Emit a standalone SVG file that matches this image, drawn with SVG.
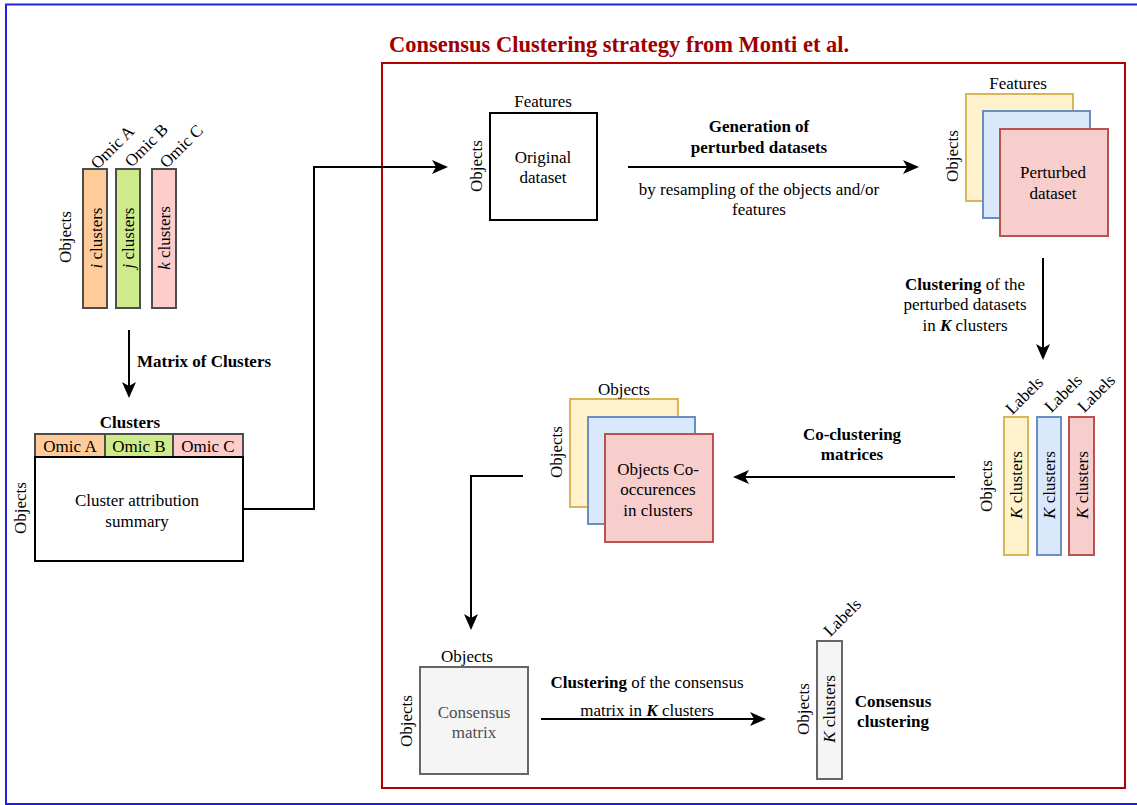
<svg xmlns="http://www.w3.org/2000/svg" width="1137" height="805" viewBox="0 0 1137 805">
<style>
text{font-family:"Liberation Serif","Times New Roman",serif;font-size:17px;fill:#000}
.c{text-anchor:middle}
.b{font-weight:bold}
.it{font-style:italic}
.box{fill:#fff;stroke:#000;stroke-width:2}
.bar{stroke:#4d4d4d;stroke-width:2}
.conn{fill:none;stroke:#000;stroke-width:2}
.y{fill:#fff2cc;stroke:#d6b656;stroke-width:2}
.bl{fill:#dae8fc;stroke:#6c8ebf;stroke-width:2}
.r{fill:#f8cecc;stroke:#b85450;stroke-width:2}
.g{fill:#f5f5f5;stroke:#666;stroke-width:2}
</style>
<defs>
<marker id="ah" markerUnits="userSpaceOnUse" markerWidth="16" markerHeight="14" viewBox="0 0 16 14" refX="10" refY="7" orient="auto">
<path d="M0,0 L16,7 L0,14 L4,7 Z" fill="#000"/>
</marker>
</defs>
<rect x="6" y="4.5" width="1150" height="799.5" fill="#fff" stroke="#2020e0" stroke-width="2"/>
<g id="frame">
<rect x="382" y="63" width="743" height="725" fill="none" stroke="#b20000" stroke-width="2"/>
<text x="389" y="52" class="b" style="font-size:22.5px;fill:#a00000">Consensus Clustering strategy from Monti et al.</text>
</g>
<g id="connectors">
<path class="conn" d="M129,330 V392" marker-end="url(#ah)"/>
<path class="conn" d="M243,509 H314 V167 H442" marker-end="url(#ah)"/>
<path class="conn" d="M628,167 H913" marker-end="url(#ah)"/>
<path class="conn" d="M1043,258 V354" marker-end="url(#ah)"/>
<path class="conn" d="M955,477 H739" marker-end="url(#ah)"/>
<path class="conn" d="M523,476 H471 V624" marker-end="url(#ah)"/>
<path class="conn" d="M541,719 H760" marker-end="url(#ah)"/>
<text x="137" y="367" class="b">Matrix of Clusters</text>
<text x="759" y="132" class="c b">Generation of</text>
<text x="759" y="153" class="c b">perturbed datasets</text>
<text x="759" y="195" class="c">by resampling of the objects and/or</text>
<text x="759" y="215" class="c">features</text>
<text x="965" y="290" class="c"><tspan class="b">Clustering</tspan> of the</text>
<text x="965" y="310" class="c">perturbed datasets</text>
<text x="965" y="331" class="c">in <tspan class="b it">K</tspan> clusters</text>
<text x="852" y="440" class="c b">Co-clustering</text>
<text x="852" y="460" class="c b">matrices</text>
<text x="647" y="688" class="c"><tspan class="b">Clustering</tspan> of the consensus</text>
<text x="647" y="716" class="c">matrix in <tspan class="b it">K</tspan> clusters</text>
</g>
<g id="omic-bars">
<rect x="83" y="169" width="24" height="139" class="bar" fill="#ffcc99"/>
<rect x="116" y="169" width="24" height="139" class="bar" fill="#cdeb8b"/>
<rect x="152" y="169" width="24" height="139" class="bar" fill="#ffcccc"/>
<text transform="translate(96,238) rotate(-90)" y="6" class="c"><tspan class="it">i</tspan> clusters</text>
<text transform="translate(128,238) rotate(-90)" y="6" class="c"><tspan class="it">j</tspan> clusters</text>
<text transform="translate(164,238) rotate(-90)" y="6" class="c"><tspan class="it">k</tspan> clusters</text>
<text transform="translate(65,237) rotate(-90)" y="6" class="c">Objects</text>
<text transform="translate(112,147) rotate(-45)" y="6" class="c">Omic A</text>
<text transform="translate(146,145) rotate(-45)" y="6" class="c">Omic B</text>
<text transform="translate(181,146) rotate(-45)" y="6" class="c">Omic C</text>
</g>
<g id="summary">
<text x="130" y="428" class="c b">Clusters</text>
<rect x="35" y="434" width="70" height="23" class="bar" fill="#ffcc99"/>
<rect x="105" y="434" width="68" height="23" class="bar" fill="#cdeb8b"/>
<rect x="173" y="434" width="70" height="23" class="bar" fill="#ffcccc"/>
<text x="70" y="452" class="c">Omic A</text>
<text x="139" y="452" class="c">Omic B</text>
<text x="208" y="452" class="c">Omic C</text>
<rect x="35" y="457" width="208" height="104" class="box"/>
<text x="137" y="506" class="c">Cluster attribution</text>
<text x="137" y="527" class="c">summary</text>
<text transform="translate(20,508) rotate(-90)" y="6" class="c">Objects</text>
</g>
<g id="original">
<rect x="490" y="113" width="107" height="107" class="box"/>
<text x="543" y="107" class="c">Features</text>
<text x="543" y="163" class="c">Original</text>
<text x="543" y="183" class="c">dataset</text>
<text transform="translate(476,166) rotate(-90)" y="6" class="c">Objects</text>
</g>
<g id="perturbed">
<rect x="966" y="94" width="107" height="107" class="y"/>
<rect x="983" y="111" width="107" height="107" class="bl"/>
<rect x="1000" y="129" width="108" height="107" class="r"/>
<text x="1018" y="89" class="c">Features</text>
<text x="1053" y="178" class="c">Perturbed</text>
<text x="1053" y="199" class="c">dataset</text>
<text transform="translate(952,156) rotate(-90)" y="6" class="c">Objects</text>
</g>
<g id="labels">
<rect x="1004" y="417" width="24" height="138" class="y"/>
<rect x="1037" y="417" width="24" height="138" class="bl"/>
<rect x="1069" y="417" width="25" height="138" class="r"/>
<text transform="translate(1016,485) rotate(-90)" y="6" class="c"><tspan class="it">K</tspan> clusters</text>
<text transform="translate(1049,485) rotate(-90)" y="6" class="c"><tspan class="it">K</tspan> clusters</text>
<text transform="translate(1082,485) rotate(-90)" y="6" class="c"><tspan class="it">K</tspan> clusters</text>
<text transform="translate(986,486) rotate(-90)" y="6" class="c">Objects</text>
<text transform="translate(1024,395) rotate(-45)" y="6" class="c">Labels</text>
<text transform="translate(1063,393) rotate(-45)" y="6" class="c">Labels</text>
<text transform="translate(1096,393) rotate(-45)" y="6" class="c">Labels</text>
</g>
<g id="cooccurrence">
<rect x="570" y="399" width="108" height="108" class="y"/>
<rect x="588" y="417" width="107" height="107" class="bl"/>
<rect x="605" y="434" width="108" height="108" class="r"/>
<text x="624" y="395" class="c">Objects</text>
<text x="658" y="475" class="c">Objects Co-</text>
<text x="658" y="495" class="c">occurences</text>
<text x="658" y="516" class="c">in clusters</text>
<text transform="translate(556,452) rotate(-90)" y="6" class="c">Objects</text>
</g>
<g id="consensus-matrix">
<rect x="420" y="667" width="108" height="107" class="g"/>
<text x="467" y="662" class="c">Objects</text>
<text x="474" y="718" class="c" style="fill:#4d4d4d">Consensus</text>
<text x="474" y="738" class="c" style="fill:#4d4d4d">matrix</text>
<text transform="translate(406,721) rotate(-90)" y="6" class="c">Objects</text>
</g>
<g id="consensus-clustering">
<rect x="817" y="641" width="25" height="138" class="g"/>
<text transform="translate(829,709) rotate(-90)" y="6" class="c"><tspan class="it">K</tspan> clusters</text>
<text transform="translate(803,709) rotate(-90)" y="6" class="c">Objects</text>
<text transform="translate(842,617) rotate(-45)" y="6" class="c">Labels</text>
<text x="893" y="707" class="c b">Consensus</text>
<text x="893" y="727" class="c b">clustering</text>
</g>
</svg>
